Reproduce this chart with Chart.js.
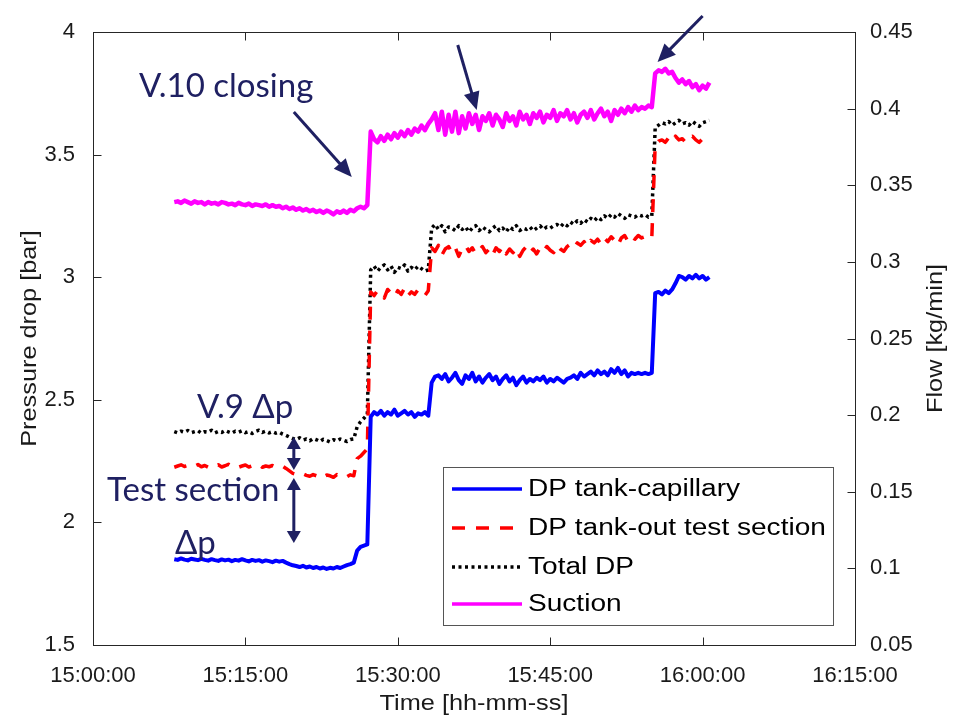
<!DOCTYPE html>
<html>
<head>
<meta charset="utf-8">
<script src="https://cdn.jsdelivr.net/npm/chart.js@4.4.1/dist/chart.umd.min.js"></script>
<style>
  body { margin: 0; background: #fff; }
  canvas { display: block; }
</style>
</head>
<body>
<canvas id="dpChart" width="953" height="720"></canvas>
<script>
// sample times: seconds after 15:00:00, one sample every 20 s from 15:08:00
var startSec = 480;
var stepSec = 20;

var seriesNames = ["DP tank-capillary", "DP tank-out test section", "Total DP", "Suction"];
var xTickLabels = ["15:00:00", "15:15:00", "15:30:00", "15:45:00", "16:00:00", "16:15:00"];

// DP tank-capillary [bar]
var dpCapillary = [
  1.85,1.847,1.853,1.848,1.845,1.852,1.849,1.846,1.851,1.847,
  1.844,1.85,1.846,1.843,1.849,1.845,1.848,1.842,1.847,1.844,
  1.85,1.845,1.841,1.847,1.843,1.846,1.84,1.845,1.842,1.838,
  1.844,1.84,1.843,1.836,1.83,1.825,1.822,1.818,1.823,1.816,
  1.82,1.814,1.818,1.812,1.816,1.81,1.815,1.812,1.818,1.814,
  1.82,1.826,1.83,1.836,
  1.885,1.9,1.905,1.91,
  2.43,2.45,2.44,2.455,2.435,2.45,2.44,2.46,2.435,2.445,2.455,2.44,2.45,2.43,2.445,2.44,2.45,2.435,
  2.57,2.595,2.6,2.585,2.605,2.575,2.59,2.61,2.58,2.565,
  2.6,2.585,2.61,2.575,2.595,2.57,2.59,2.605,2.58,2.595,
  2.565,2.585,2.6,2.575,2.59,2.56,2.58,2.595,2.57,2.585,
  2.575,2.59,2.58,2.595,2.57,2.585,2.575,2.59,2.58,2.57,
  2.585,2.59,2.6,2.585,2.61,2.595,2.605,2.615,2.6,2.62,
  2.605,2.615,2.6,2.625,2.61,2.63,2.605,2.62,2.595,2.61,
  2.605,2.61,2.605,2.61,2.605,2.61,
  2.935,2.94,2.93,2.945,2.935,2.95,2.975,3.005,3.0,2.99,3.005,2.995,3.01,2.995,3.005,2.99,3.0
];

// DP tank-out test section [bar]
var dpTankOut = [
  2.225,2.23,2.235,2.228,2.232,2.224,2.23,2.236,2.227,2.232,
  2.225,2.233,2.228,2.235,2.226,2.231,2.237,2.228,2.232,2.225,
  2.23,2.234,2.226,2.231,2.228,2.235,2.225,2.23,2.227,2.232,
  2.226,2.222,2.229,2.22,2.21,2.2,2.196,2.19,2.198,2.192,
  2.188,2.195,2.19,2.197,2.186,2.193,2.19,2.184,2.195,2.188,
  2.192,2.186,2.194,2.19,
  2.26,2.27,2.285,2.3,
  2.94,2.925,2.945,2.93,2.915,2.95,2.935,2.92,2.945,2.93,2.955,2.925,2.94,2.93,2.95,2.935,2.925,2.945,
  3.12,3.105,3.13,3.09,3.115,3.125,3.1,3.12,3.085,3.115,
  3.13,3.105,3.12,3.095,3.11,3.125,3.1,3.115,3.09,3.12,
  3.105,3.125,3.095,3.115,3.1,3.12,3.085,3.11,3.125,3.1,
  3.115,3.095,3.12,3.105,3.125,3.11,3.1,3.13,3.115,3.105,
  3.125,3.135,3.12,3.14,3.13,3.145,3.125,3.15,3.14,3.155,
  3.135,3.16,3.145,3.165,3.15,3.13,3.16,3.17,3.145,3.165,
  3.155,3.17,3.16,3.165,3.155,3.16,
  3.54,3.555,3.56,3.55,3.57,3.555,3.575,3.56,3.565,3.55,3.57,3.575,3.56,3.55,3.565,3.575,3.565
];

// Total DP [bar]
var dpTotal = [
  2.37,2.365,2.372,2.368,2.375,2.366,2.37,2.374,2.364,2.37,
  2.368,2.376,2.365,2.371,2.367,2.375,2.369,2.364,2.372,2.368,
  2.374,2.366,2.37,2.363,2.371,2.376,2.367,2.372,2.365,2.37,
  2.364,2.368,2.36,2.355,2.348,2.342,2.338,2.345,2.336,2.34,
  2.333,2.342,2.337,2.33,2.339,2.334,2.328,2.337,2.332,2.34,
  2.335,2.33,2.338,2.34,
  2.39,2.41,2.425,2.44,
  3.03,3.045,3.025,3.04,3.05,3.03,3.045,3.02,3.04,3.035,3.05,3.025,3.04,3.03,3.045,3.035,3.025,3.03,
  3.2,3.215,3.195,3.21,3.185,3.205,3.2,3.19,3.21,3.195,
  3.205,3.185,3.2,3.21,3.19,3.205,3.195,3.185,3.2,3.21,
  3.19,3.2,3.185,3.205,3.195,3.21,3.19,3.2,3.195,3.205,
  3.19,3.2,3.21,3.195,3.205,3.2,3.21,3.215,3.205,3.22,
  3.21,3.225,3.215,3.23,3.22,3.235,3.225,3.24,3.23,3.245,
  3.235,3.25,3.24,3.255,3.245,3.26,3.25,3.24,3.255,3.25,
  3.245,3.255,3.25,3.255,3.245,3.25,
  3.61,3.62,3.63,3.625,3.635,3.62,3.63,3.64,3.625,3.63,3.62,3.635,3.625,3.615,3.63,3.635,3.64
];

// Suction flow [kg/min] (right axis)
var suctionFlow = [
  0.339,0.3395,0.3385,0.34,0.339,0.338,0.3395,0.3385,0.339,0.3375,
  0.339,0.338,0.3385,0.3375,0.339,0.3385,0.3375,0.338,0.337,0.3385,
  0.3375,0.337,0.338,0.3365,0.3375,0.337,0.3365,0.3375,0.336,0.337,
  0.336,0.3365,0.335,0.336,0.3345,0.3355,0.334,0.335,0.3335,0.3345,
  0.333,0.334,0.3325,0.3335,0.332,0.3335,0.3325,0.331,0.333,0.332,
  0.3335,0.332,0.334,0.333,
  0.335,0.336,0.335,0.337,
  0.385,0.38,0.378,0.382,0.379,0.383,0.38,0.384,0.381,0.385,0.382,0.386,0.383,0.387,0.385,0.389,0.386,0.39,
  0.393,0.397,0.386,0.398,0.383,0.396,0.385,0.398,0.384,0.395,
  0.387,0.397,0.39,0.396,0.386,0.395,0.392,0.397,0.389,0.396,
  0.393,0.388,0.397,0.392,0.395,0.389,0.398,0.393,0.396,0.39,
  0.397,0.394,0.398,0.391,0.396,0.394,0.399,0.392,0.397,0.395,
  0.399,0.393,0.397,0.391,0.396,0.398,0.394,0.399,0.393,0.397,
  0.4,0.395,0.398,0.392,0.399,0.396,0.4,0.397,0.401,0.398,
  0.402,0.399,0.401,0.4,0.402,0.401,
  0.423,0.425,0.424,0.426,0.423,0.424,0.42,0.417,0.419,0.416,0.418,0.414,0.416,0.412,0.415,0.413,0.417
];

// annotations in data units (x: s after 15:00, y: bar)
var annoTexts = [
  { text: "V.10 closing", x: 271, y: 3.78 },
  { text: "V.9 \u0394p", x: 614, y: 2.471 },
  { text: "Test section", x: 83, y: 2.132 },
  { text: "\u0394p", x: 484, y: 1.916 }
];
var annoArrows = [
  [1186, 3.674, 1528, 3.409],
  [2154, 3.947, 2266, 3.682],
  [3600, 4.065, 3334, 3.878]
];
var annoDoubleArrows = [
  [1186, 2.348, 2.214],
  [1186, 2.181, 1.916]
];

function toXY(values) {
  return values.map(function (v, i) { return { x: startSec + i * stepSec, y: v }; });
}

function hms(sec) {
  var h = 15 + Math.floor(sec / 3600);
  var m = Math.floor((sec % 3600) / 60);
  var s = sec % 60;
  var p = function (n) { return (n < 10 ? "0" : "") + n; };
  return h + ":" + p(m) + ":" + p(s);
}

var navy = "#1f2062";
var axisColor = "#262626";

function arrowHead(ctx, x0, y0, x1, y1, len, wid) {
  var ang = Math.atan2(y1 - y0, x1 - x0);
  ctx.save();
  ctx.translate(x1, y1);
  ctx.rotate(ang);
  ctx.beginPath();
  ctx.moveTo(0, 0);
  ctx.lineTo(-len, -wid / 2);
  ctx.lineTo(-len, wid / 2);
  ctx.closePath();
  ctx.fill();
  ctx.restore();
}

var decorations = {
  id: "decorations",
  afterDraw: function (chart) {
    var ctx = chart.ctx;
    var a = chart.chartArea;
    var xs = chart.scales.x, ys = chart.scales.y, yr = chart.scales.y1;
    ctx.save();

    // axes box and inward ticks
    ctx.strokeStyle = axisColor;
    ctx.lineWidth = 1;
    var L = Math.round(a.left) + 0.5, R = Math.round(a.right) + 0.5;
    var T = Math.round(a.top) + 0.5, B = Math.round(a.bottom) + 0.5;
    ctx.strokeRect(L, T, R - L, B - T);
    ctx.beginPath();
    xs.ticks.forEach(function (t) {
      var px = Math.round(xs.getPixelForValue(t.value)) + 0.5;
      ctx.moveTo(px, B); ctx.lineTo(px, B - 8);
      ctx.moveTo(px, T); ctx.lineTo(px, T + 8);
    });
    ys.ticks.forEach(function (t) {
      var py = Math.round(ys.getPixelForValue(t.value)) + 0.5;
      ctx.moveTo(L, py); ctx.lineTo(L + 8, py);
    });
    yr.ticks.forEach(function (t) {
      var py = Math.round(yr.getPixelForValue(t.value)) + 0.5;
      ctx.moveTo(R, py); ctx.lineTo(R - 8, py);
    });
    ctx.stroke();

    // axis titles
    ctx.fillStyle = "#1a1a1a";
    ctx.font = "22px 'Liberation Sans', Arial, sans-serif";
    ctx.textAlign = "center";
    ctx.textBaseline = "middle";
    ctx.save();
    ctx.translate(30, (a.top + a.bottom) / 2);
    ctx.rotate(-Math.PI / 2);
    ctx.scale(1.15, 1);
    ctx.fillText("Pressure drop [bar]", 0, 0);
    ctx.restore();
    ctx.save();
    ctx.translate(936, (a.top + a.bottom) / 2);
    ctx.rotate(-Math.PI / 2);
    ctx.scale(1.15, 1);
    ctx.fillText("Flow [kg/min]", 0, 0);
    ctx.restore();
    ctx.save();
    ctx.translate((a.left + a.right) / 2, 704);
    ctx.scale(1.15, 1);
    ctx.fillText("Time [hh-mm-ss]", 0, 0);
    ctx.restore();

    // annotation texts
    ctx.fillStyle = navy;
    ctx.strokeStyle = navy;
    ctx.font = "33px Lato, 'Open Sans', sans-serif";
    ctx.textAlign = "left";
    annoTexts.forEach(function (t) {
      ctx.fillText(t.text, xs.getPixelForValue(t.x), ys.getPixelForValue(t.y));
    });

    // single arrows
    ctx.lineWidth = 3;
    annoArrows.forEach(function (ar) {
      var x0 = xs.getPixelForValue(ar[0]), y0 = ys.getPixelForValue(ar[1]);
      var x1 = xs.getPixelForValue(ar[2]), y1 = ys.getPixelForValue(ar[3]);
      var ang = Math.atan2(y1 - y0, x1 - x0);
      ctx.beginPath();
      ctx.moveTo(x0, y0);
      ctx.lineTo(x1 - 12 * Math.cos(ang), y1 - 12 * Math.sin(ang));
      ctx.stroke();
      arrowHead(ctx, x0, y0, x1, y1, 18, 16);
    });

    // double arrows
    annoDoubleArrows.forEach(function (ar) {
      var x = xs.getPixelForValue(ar[0]);
      var y0 = ys.getPixelForValue(ar[1]), y1 = ys.getPixelForValue(ar[2]);
      ctx.beginPath();
      ctx.moveTo(x, y0 + 8);
      ctx.lineTo(x, y1 - 8);
      ctx.stroke();
      arrowHead(ctx, x, y1, x, y0, 12, 14);
      arrowHead(ctx, x, y0, x, y1, 12, 14);
    });

    // legend box
    var lx = 443, ly = 467, lw = 390, lh = 158;
    ctx.fillStyle = "#fff";
    ctx.fillRect(lx, ly, lw, lh);
    ctx.strokeStyle = "#555";
    ctx.lineWidth = 1;
    ctx.strokeRect(lx + 0.5, ly + 0.5, lw, lh);
    var rows = [489, 528, 567, 604];
    chart.data.datasets.forEach(function (ds, i) {
      var yy = rows[i];
      ctx.strokeStyle = ds.borderColor;
      ctx.lineWidth = 3.5;
      ctx.setLineDash(ds.borderDash || []);
      ctx.beginPath();
      ctx.moveTo(452, yy);
      ctx.lineTo(522, yy);
      ctx.stroke();
      ctx.setLineDash([]);
      ctx.save();
      ctx.translate(528, yy);
      ctx.scale(1.22, 1);
      ctx.fillStyle = "#000";
      ctx.font = "23px 'Liberation Sans', Arial, sans-serif";
      ctx.textBaseline = "middle";
      ctx.fillText(ds.label, 0, 1);
      ctx.restore();
    });
    ctx.restore();
  }
};

var tickFont = { family: "'Liberation Sans', Arial, sans-serif", size: 22 };

new Chart(document.getElementById("dpChart"), {
  type: "line",
  data: {
    datasets: [
      { label: seriesNames[0], data: toXY(dpCapillary), borderColor: "#0000ff", borderWidth: 4, yAxisID: "y" },
      { label: seriesNames[1], data: toXY(dpTankOut), borderColor: "#ff0000", borderWidth: 3.5, borderDash: [13, 11], yAxisID: "y" },
      { label: seriesNames[2], data: toXY(dpTotal), borderColor: "#000000", borderWidth: 3.5, borderDash: [3, 3.5], yAxisID: "y" },
      { label: seriesNames[3], data: toXY(suctionFlow), borderColor: "#ff00ff", borderWidth: 4.5, yAxisID: "y1" }
    ]
  },
  options: {
    responsive: false,
    animation: false,
    layout: { padding: { top: 32 } },
    elements: { point: { radius: 0 }, line: { tension: 0, borderJoinStyle: "round" } },
    plugins: { legend: { display: false }, tooltip: { enabled: false } },
    scales: {
      x: {
        type: "linear",
        min: 0,
        max: 4500,
        grid: { display: false },
        border: { display: false },
        afterFit: function (s) { s.height = 75; },
        ticks: {
          stepSize: 900,
          padding: 10,
          maxRotation: 0,
          color: "#1a1a1a",
          font: tickFont,
          callback: function (v) { return xTickLabels[v / 900] || hms(v); }
        }
      },
      y: {
        position: "left",
        min: 1.5,
        max: 4,
        grid: { display: false },
        border: { display: false },
        afterFit: function (s) { s.width = 93; },
        ticks: {
          stepSize: 0.5,
          padding: 10,
          color: "#1a1a1a",
          font: tickFont,
          callback: function (v) { return String(Number(v.toFixed(2))); }
        }
      },
      y1: {
        position: "right",
        min: 0.05,
        max: 0.45,
        grid: { display: false },
        border: { display: false },
        afterFit: function (s) { s.width = 98; },
        ticks: {
          stepSize: 0.05,
          padding: 7,
          color: "#1a1a1a",
          font: tickFont,
          callback: function (v) { return String(Number(v.toFixed(2))); }
        }
      }
    }
  },
  plugins: [decorations]
});
</script>
</body>
</html>
